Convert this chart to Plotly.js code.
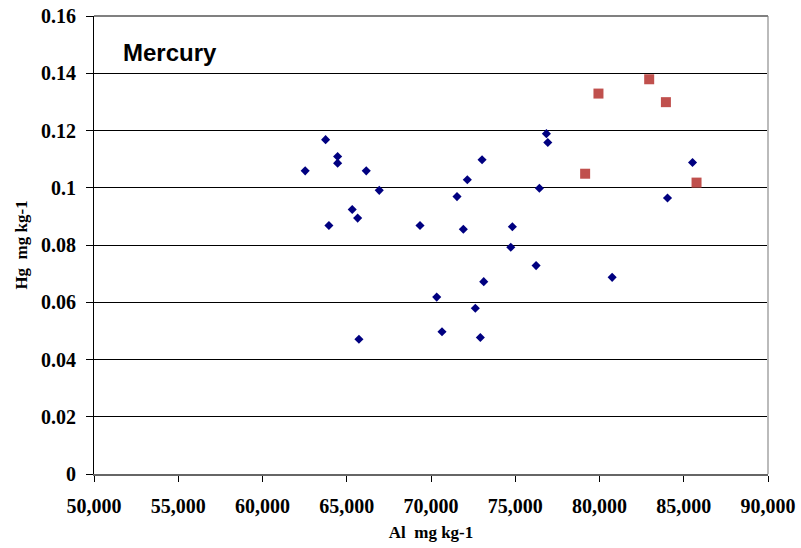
<!DOCTYPE html>
<html>
<head>
<meta charset="utf-8">
<script src="https://cdn.plot.ly/plotly-3.0.1.min.js"></script>
<style>html,body{margin:0;padding:0;background:#fff;}#chart{width:801px;height:548px;}</style>
</head>
<body>
<div id="chart"></div>
<script>
// Blue series (diamonds): Al vs Hg
var alBlue = [63745, 64458, 64458, 62533, 66157, 66929, 73030, 72156, 71544, 65325,
              65646, 63941, 69347, 71919, 73130, 70339, 72631, 70653, 72928, 65723,
              76849, 76932, 85521, 76433, 84036, 74829, 74734, 76237, 80751];
var hgBlue = [0.1168, 0.1109, 0.1086, 0.1059, 0.1059, 0.0991, 0.1098, 0.1028, 0.0969, 0.0924,
              0.0894, 0.0868, 0.0868, 0.0855, 0.0672, 0.0618, 0.0579, 0.0497, 0.0477, 0.0471,
              0.1189, 0.1158, 0.1088, 0.0998, 0.0964, 0.0864, 0.0792, 0.0728, 0.0687];
// Red series (squares)
var alRed = [82949, 79938, 83941, 79148, 85759];
var hgRed = [0.1379, 0.1329, 0.1299, 0.1049, 0.1018];

var xTicks = [50000, 55000, 60000, 65000, 70000, 75000, 80000, 85000, 90000];
var xTickText = ["50,000", "55,000", "60,000", "65,000", "70,000", "75,000", "80,000", "85,000", "90,000"];
var yTicks = [0, 0.02, 0.04, 0.06, 0.08, 0.1, 0.12, 0.14, 0.16];
var yTickText = ["0", "0.02", "0.04", "0.06", "0.08", "0.1", "0.12", "0.14", "0.16"];

var tickFont = {family: "Liberation Serif, Times New Roman, serif", size: 20, color: "#000", weight: "bold"};
var titleFont = {family: "Liberation Serif, Times New Roman, serif", size: 17, color: "#000", weight: "bold"};

var traces = [
  {x: alBlue, y: hgBlue, type: "scatter", mode: "markers",
   marker: {symbol: "diamond", size: 7, color: "#000080"}, hoverinfo: "x+y"},
  {x: alRed, y: hgRed, type: "scatter", mode: "markers",
   marker: {symbol: "square", size: 10, color: "#C0504D"}, hoverinfo: "x+y"}
];

var layout = {
  width: 801, height: 548,
  margin: {l: 94, r: 33, t: 16, b: 74, pad: 0},
  paper_bgcolor: "#fff", plot_bgcolor: "#fff",
  showlegend: false,
  xaxis: {
    range: [50000, 90000], tickvals: xTicks, ticktext: xTickText,
    showgrid: false, zeroline: false,
    showline: true, linecolor: "#666", linewidth: 2,
    ticks: "outside", ticklen: 6, tickcolor: "#000", tickwidth: 1,
    tickfont: tickFont, ticklabelstandoff: 7,
    title: {text: "Al  mg kg-1", font: titleFont, standoff: 10}
  },
  yaxis: {
    range: [0, 0.16], tickvals: yTicks, ticktext: yTickText,
    showgrid: true, gridcolor: "#000", gridwidth: 1,
    zeroline: false,
    showline: true, linecolor: "#000", linewidth: 1,
    ticks: "outside", ticklen: 7, tickcolor: "#000", tickwidth: 1,
    tickfont: tickFont, ticklabelstandoff: 6,
    title: {text: "Hg  mg kg-1", font: titleFont, standoff: 9}
  },
  shapes: [
    {type: "line", xref: "paper", yref: "paper", x0: 1, x1: 1, y0: 0, y1: 1,
     line: {color: "#bbbbbb", width: 2}},
    {type: "line", xref: "paper", yref: "paper", x0: 0, x1: 1, y0: 1, y1: 1,
     line: {color: "#808080", width: 2}}
  ],
  annotations: [
    {text: "Mercury", xref: "paper", yref: "paper", x: 0.04, y: 0.92,
     xanchor: "left", yanchor: "middle", showarrow: false,
     font: {family: "Liberation Sans, Arial, sans-serif", size: 24, color: "#000", weight: "bold"}}
  ]
};

Plotly.newPlot("chart", traces, layout, {displayModeBar: false, staticPlot: true});
</script>
</body>
</html>
